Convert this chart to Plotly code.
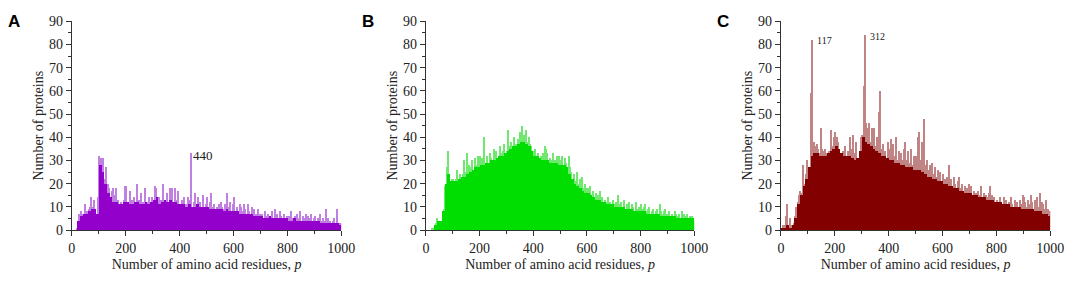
import numpy as np
import plotly.graph_objects as go

# Histogram counts (5-residue bins for spikes, 10-residue bins for the dense body)
A_peak = [
    0, 0, 0, 1, 3, 7, 8, 7, 6, 11, 7, 8, 9, 10, 14, 10, 13, 8, 6, 14,
    32, 31, 26, 31, 22, 27, 20, 18, 14, 17, 18, 15, 18, 11, 13, 9, 12, 10, 13, 19,
    19, 12, 10, 17, 13, 11, 14, 12, 20, 13, 11, 16, 12, 9, 18, 10, 12, 14, 11, 14,
    13, 19, 18, 12, 14, 10, 13, 20, 13, 12, 16, 11, 18, 14, 18, 11, 18, 13, 17, 10,
    10, 13, 9, 14, 11, 10, 14, 13, 33, 10, 12, 16, 11, 14, 10, 12, 9, 15, 10, 11,
    14, 9, 12, 16, 10, 11, 7, 10, 9, 11, 12, 10, 9, 11, 8, 16, 10, 12, 8, 11,
    14, 8, 10, 7, 11, 10, 8, 11, 9, 7, 11, 8, 7, 10, 6, 9, 7, 6, 9, 7,
    6, 7, 5, 8, 6, 7, 5, 6, 8, 5, 9, 6, 7, 5, 8, 6, 5, 7, 4, 6,
    5, 6, 8, 5, 4, 6, 5, 7, 5, 8, 4, 6, 5, 7, 4, 6, 5, 7, 4, 5,
    6, 4, 5, 3, 7, 4, 5, 4, 9, 3, 5, 4, 3, 4, 5, 3, 9, 2, 3, 3,
]
A_base = [
    0, 0, 4, 6, 7, 7, 8, 9, 9, 7,
    28, 25, 20, 16, 14, 12, 12, 11, 11, 12,
    12, 11, 11, 12, 12, 11, 11, 12, 11, 12,
    13, 14, 11, 12, 13, 12, 13, 12, 12, 11,
    11, 11, 10, 11, 10, 10, 11, 10, 10, 10,
    10, 9, 9, 9, 9, 9, 8, 9, 8, 8,
    8, 8, 7, 7, 7, 7, 7, 6, 6, 6,
    6, 5, 5, 6, 5, 5, 5, 5, 5, 5,
    4, 4, 5, 4, 4, 4, 4, 4, 4, 4,
    4, 4, 3, 3, 3, 3, 3, 3, 3, 2,
]
B_peak = [
    0, 0, 0, 0, 1, 1, 1, 3, 5, 4, 4, 4, 8, 9, 19, 27, 34, 22, 20, 22,
    22, 21, 22, 26, 20, 24, 23, 24, 30, 25, 33, 24, 28, 27, 30, 26, 31, 28, 32, 27,
    32, 31, 30, 40, 28, 32, 29, 33, 31, 30, 35, 28, 34, 31, 32, 36, 33, 34, 37, 31,
    34, 43, 36, 38, 35, 40, 36, 37, 39, 38, 42, 45, 40, 41, 43, 38, 40, 37, 36, 34,
    33, 35, 31, 33, 30, 32, 29, 33, 36, 35, 33, 29, 31, 30, 33, 28, 30, 32, 29, 32,
    30, 32, 28, 31, 29, 26, 32, 27, 25, 22, 24, 21, 25, 20, 22, 19, 23, 18, 20, 18,
    18, 16, 19, 15, 17, 14, 16, 13, 15, 17, 12, 14, 11, 13, 12, 14, 11, 12, 10, 13,
    11, 12, 10, 15, 11, 12, 10, 13, 9, 11, 10, 12, 9, 11, 10, 8, 12, 9, 10, 8,
    11, 9, 10, 11, 8, 9, 10, 7, 8, 9, 7, 8, 9, 7, 11, 8, 7, 8, 9, 7,
    7, 8, 6, 7, 6, 8, 7, 6, 7, 5, 8, 6, 7, 6, 7, 5, 6, 5, 6, 4,
]
B_base = [
    0, 0, 0, 2, 4, 4, 8, 20, 24, 21,
    21, 21, 22, 23, 23, 24, 25, 26, 27, 27,
    28, 28, 29, 29, 30, 30, 31, 32, 32, 33,
    34, 35, 36, 36, 37, 38, 38, 37, 36, 34,
    32, 32, 31, 30, 30, 30, 29, 29, 29, 28,
    28, 28, 27, 24, 22, 20, 19, 18, 17, 16,
    16, 15, 14, 13, 13, 12, 12, 11, 11, 11,
    10, 10, 10, 10, 9, 9, 9, 8, 8, 8,
    8, 8, 7, 7, 7, 7, 7, 6, 6, 6,
    6, 6, 6, 5, 5, 5, 5, 5, 5, 5,
]
C_peak = [
    1, 2, 2, 6, 11, 2, 5, 2, 1, 3, 6, 10, 12, 15, 17, 16, 28, 20, 24, 30,
    25, 27, 59, 82, 38, 36, 37, 35, 33, 44, 35, 34, 35, 33, 30, 34, 32, 43, 36, 40,
    42, 40, 38, 35, 33, 31, 34, 36, 30, 34, 32, 40, 35, 41, 33, 38, 22, 30, 33, 40,
    41, 62, 84, 46, 44, 46, 38, 44, 37, 44, 36, 40, 51, 60, 35, 37, 32, 34, 30, 38,
    35, 39, 33, 37, 32, 40, 30, 34, 28, 33, 30, 35, 38, 30, 34, 29, 35, 28, 32, 29,
    32, 40, 42, 30, 38, 29, 48, 28, 30, 26, 28, 25, 29, 24, 27, 23, 26, 22, 25, 21,
    24, 22, 20, 23, 28, 21, 22, 19, 23, 20, 18, 21, 23, 18, 20, 17, 19, 16, 18, 20,
    17, 19, 15, 17, 16, 14, 17, 15, 19, 14, 16, 13, 15, 14, 16, 19, 15, 13, 14, 12,
    13, 11, 14, 12, 10, 14, 11, 13, 10, 12, 14, 11, 9, 13, 11, 12, 10, 13, 11, 15,
    14, 12, 10, 13, 11, 15, 12, 9, 13, 11, 14, 10, 16, 12, 11, 9, 13, 8, 9, 8,
]
C_base = [
    1, 1, 2, 1, 2, 5, 11, 15, 19, 22,
    27, 32, 33, 33, 32, 32, 32, 33, 34, 35,
    36, 35, 33, 32, 32, 32, 31, 30, 31, 34,
    40, 38, 37, 36, 35, 34, 33, 32, 32, 31,
    30, 30, 29, 29, 28, 28, 27, 27, 27, 26,
    26, 26, 25, 24, 23, 23, 22, 22, 21, 21,
    20, 20, 19, 19, 18, 18, 17, 17, 16, 16,
    16, 15, 15, 14, 14, 14, 13, 13, 13, 12,
    12, 12, 11, 11, 11, 10, 10, 10, 10, 9,
    9, 9, 9, 9, 8, 8, 8, 7, 7, 6,
]

panel_labels = ["A", "B", "C"]
x_title = "Number of amino acid residues, <i>p</i>"
y_title = "Number of proteins"

W, H = 1084, 283
SERIF = "Liberation Serif, Times New Roman, serif"

panels = [
    dict(peak=A_peak, base=A_base, dark="#9300CC", light="#C080E2", x0=69, x1=343),
    dict(peak=B_peak, base=B_base, dark="#00DD00", light="#70E870", x0=429, x1=702),
    dict(peak=C_peak, base=C_base, dark="#820000", light="#C08484", x0=790, x1=1064),
]

fig = go.Figure()
y_top, y_bot = 15, 235.7
for i, p in enumerate(panels):
    sfx = "" if i == 0 else str(i + 1)
    pw = 1000 / len(p["peak"])
    bw = 1000 / len(p["base"])
    xp = np.arange(len(p["peak"])) * pw + pw / 2
    xb = np.arange(len(p["base"])) * bw + bw / 2
    fig.add_trace(go.Bar(x=xp, y=p["peak"], width=pw, marker=dict(color=p["light"], line=dict(width=0)),
                         xaxis="x" + sfx, yaxis="y" + sfx, showlegend=False, hoverinfo="x+y"))
    fig.add_trace(go.Bar(x=xb, y=p["base"], width=bw, marker=dict(color=p["dark"], line=dict(width=0)),
                         xaxis="x" + sfx, yaxis="y" + sfx, showlegend=False, hoverinfo="x+y"))
    axis_common = dict(showline=True, linecolor="#333333", linewidth=1, ticks="outside",
                       tickcolor="#333333", ticklen=5, tickwidth=1, showgrid=False, zeroline=False,
                       tickfont=dict(family=SERIF, size=14, color="#222222"))
    fig.layout["xaxis" + sfx] = dict(
        domain=[p["x0"] / W, p["x1"] / W], anchor="y" + sfx, range=[0, 1000],
        tickvals=[0, 200, 400, 600, 800, 1000],
        minor=dict(dtick=100, tick0=0, ticks="outside", ticklen=3, tickcolor="#333333"),
        title=dict(text=x_title, font=dict(family=SERIF, size=14, color="#222222"), standoff=4),
        **axis_common)
    fig.layout["yaxis" + sfx] = dict(
        domain=[1 - y_bot / H, 1 - y_top / H], anchor="x" + sfx, range=[0, 90],
        dtick=10, tick0=0,
        minor=dict(dtick=5, tick0=0, ticks="outside", ticklen=3, tickcolor="#333333"),
        title=dict(text=y_title, font=dict(family=SERIF, size=14, color="#222222"), standoff=2),
        **axis_common)
    fig.add_annotation(text="<b>" + panel_labels[i] + "</b>", xref="paper", yref="paper",
                       x=(p["x0"] - 67) / W, y=1 - 15 / H, xanchor="left", yanchor="middle",
                       showarrow=False, font=dict(family="Liberation Sans, Arial, sans-serif", size=17,
                                                  color="black"))

# peak labels
fig.add_annotation(text="440", x=441, y=32, xref="x", yref="y", xanchor="left", yanchor="middle",
                   showarrow=False, font=dict(family=SERIF, size=13, color="#222222"))
fig.add_annotation(text="117", x=126, y=81.5, xref="x3", yref="y3", xanchor="left", yanchor="middle",
                   showarrow=False, font=dict(family=SERIF, size=10, color="#222222"))
fig.add_annotation(text="312", x=322, y=83.3, xref="x3", yref="y3", xanchor="left", yanchor="middle",
                   showarrow=False, font=dict(family=SERIF, size=10, color="#222222"))

fig.update_layout(width=W, height=H, margin=dict(l=0, r=0, t=0, b=0), barmode="overlay", bargap=0,
                  plot_bgcolor="white", paper_bgcolor="white")
fig.write_html("out.html", config={"displayModeBar": False},
               post_script="document.body.style.margin='0';document.body.style.overflow='hidden';")
